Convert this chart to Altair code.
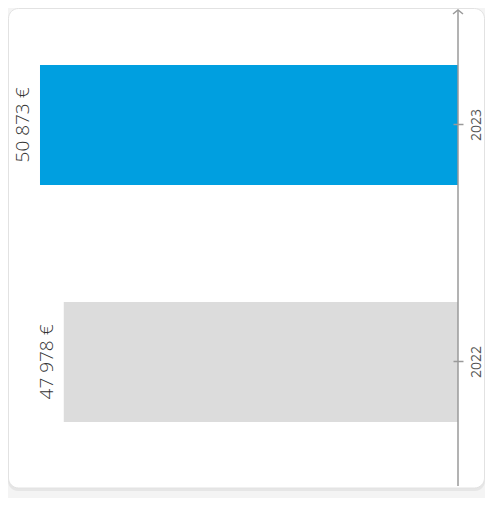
import altair as alt
import pandas as pd

years = ["2023", "2022"]
values = [50873, 47978]
colors = ["#009FE0", "#DCDCDC"]
labels = [f"{v:,}".replace(",", " ") + " €" for v in values]

df = pd.DataFrame({"year": years, "value": values, "color": colors, "label": labels})
one = pd.DataFrame({"k": [0]})

W, H = 450, 478
yscale = alt.Scale(domain=years, paddingInner=0.4937, paddingOuter=0.2553, align=0.471)
xscale = alt.Scale(domain=[0, 54767], reverse=True, nice=False, zero=True)

shadow = alt.Chart(one).mark_rect(cornerRadius=10, fill="#e6e6e6").encode(
    x=alt.value(0), x2=alt.value(477), y=alt.value(2), y2=alt.value(483)
)
card = alt.Chart(one).mark_rect(cornerRadius=10, fill="#ffffff", stroke="#e2e2e2", strokeWidth=1).encode(
    x=alt.value(0.5), x2=alt.value(476.5), y=alt.value(0.5), y2=alt.value(480)
)

bars = alt.Chart(df).mark_bar().encode(
    y=alt.Y(
        "year:N",
        scale=yscale,
        sort=years,
        axis=alt.Axis(
            orient="right", title=None, domain=False, tickSize=10, tickColor="#9a9a9a",
            tickWidth=1.5, offset=-5, labelAngle=270, labelAlign="center",
            labelBaseline="top", labelPadding=6, labelFont="Open Sans",
            labelFontSize=14, labelFontWeight=400, labelColor="#555555", zindex=1,
        ),
    ),
    x=alt.X("value:Q", scale=xscale, axis=None),
    color=alt.Color("color:N", scale=None),
)

text = alt.Chart(df).mark_text(
    angle=270, baseline="alphabetic", align="center", dy=-11,
    font="Open Sans", fontSize=19, fontWeight=300, color="#333333",
).encode(
    x=alt.X("value:Q", scale=xscale, axis=None),
    y=alt.Y("year:N", scale=yscale, sort=years),
    text="label:N",
)

axisline = alt.Chart(one).mark_rule(stroke="#9a9a9a", strokeWidth=1.5).encode(
    x=alt.value(450), y=alt.value(2), y2=alt.value(478)
)
arrow = alt.Chart(one).mark_point(
    shape="M-1,0.8L0,0L1,0.8", filled=False, size=100, stroke="#9a9a9a", strokeWidth=1.5, opacity=1
).encode(x=alt.value(450), y=alt.value(2))

chart = alt.layer(shadow, card, bars, text, axisline, arrow).properties(
    width=W, height=H,
    padding={"left": 0, "top": 0, "right": 27, "bottom": 12},
    autosize="none",
    background="#f4f4f4",
).configure_view(stroke=None)

chart.save("out.html", embed_options={"renderer": "svg", "actions": False})
